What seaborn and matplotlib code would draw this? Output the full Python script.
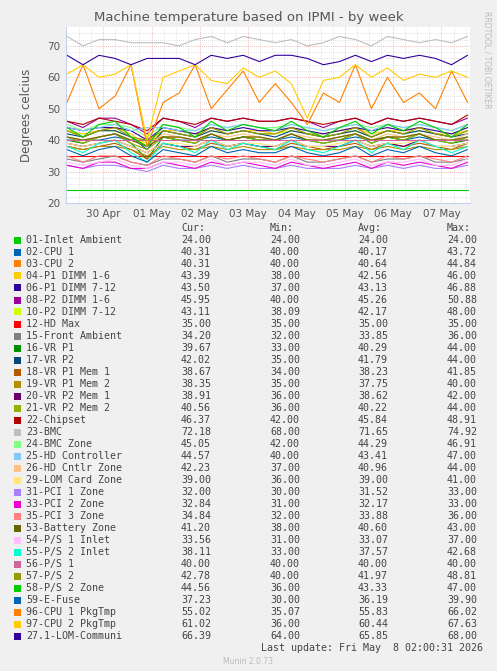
import numpy as np
import pandas as pd
import matplotlib
matplotlib.use("Agg")
import matplotlib.pyplot as plt
import seaborn as sns
from matplotlib.patches import Rectangle

sns.set_theme(style="white")
plt.rcParams['font.family'] = ['DejaVu Sans']

day_labels = ["30 Apr", "01 May", "02 May", "03 May", "04 May", "05 May", "06 May", "07 May"]
names = ["01-Inlet Ambient", "02-CPU 1", "03-CPU 2", "04-P1 DIMM 1-6", "06-P1 DIMM 7-12",
         "08-P2 DIMM 1-6", "10-P2 DIMM 7-12", "12-HD Max", "15-Front Ambient", "16-VR P1",
         "17-VR P2", "18-VR P1 Mem 1", "19-VR P1 Mem 2", "20-VR P2 Mem 1", "21-VR P2 Mem 2",
         "22-Chipset", "23-BMC", "24-BMC Zone", "25-HD Controller", "26-HD Cntlr Zone",
         "29-LOM Card Zone", "31-PCI 1 Zone", "33-PCI 2 Zone", "35-PCI 3 Zone", "53-Battery Zone",
         "54-P/S 1 Inlet", "55-P/S 2 Inlet", "56-P/S 1", "57-P/S 2", "58-P/S 2 Zone",
         "59-E-Fuse", "96-CPU 1 PkgTmp", "97-CPU 2 PkgTmp", "27.1-LOM-Communi"]
colors = ["#00CC00", "#0066B3", "#FF8000", "#FFCC00", "#330099", "#990099", "#CCFF00", "#FF0000",
          "#808080", "#008F00", "#00487D", "#B35A00", "#B38F00", "#6B006B", "#8FB300", "#B30000",
          "#BEBEBE", "#80FF80", "#80C9FF", "#FFC080", "#FFE680", "#AA80FF", "#EE00CC", "#FF8080",
          "#666600", "#FFBFFF", "#00FFCC", "#CC6699", "#999900", "#00CC00", "#0066B3", "#FF8000",
          "#FFCC00", "#330099"]
cur = ["24.00","40.31","40.31","43.39","43.50","45.95","43.11","35.00","34.20","39.67","42.02","38.67",
       "38.35","38.91","40.56","46.37","72.18","45.05","44.57","42.23","39.00","32.00","32.84","34.84",
       "41.20","33.56","38.11","40.00","42.78","44.56","37.23","55.02","61.02","66.39"]
mins = ["24.00","40.00","40.00","38.00","37.00","40.00","38.09","35.00","32.00","33.00","35.00","34.00",
        "35.00","36.00","36.00","42.00","68.00","42.00","40.00","37.00","36.00","30.00","31.00","32.00",
        "38.00","31.00","33.00","40.00","40.00","36.00","30.00","35.07","36.00","64.00"]
avgs = ["24.00","40.17","40.64","42.56","43.13","45.26","42.17","35.00","33.85","40.29","41.79","38.23",
        "37.75","38.62","40.22","45.84","71.65","44.29","43.41","40.96","39.00","31.52","32.17","33.88",
        "40.60","33.07","37.57","40.00","41.97","43.33","36.19","55.83","60.44","65.85"]
maxs = ["24.00","43.72","44.84","46.00","46.88","50.88","48.00","35.00","36.00","44.00","44.00","41.85",
        "40.00","42.00","44.00","48.91","74.92","46.91","47.00","44.00","41.00","33.00","33.00","36.00",
        "43.00","37.00","42.68","40.00","48.81","47.00","39.90","66.02","67.63","68.00"]

s01 = [24]*26
s02 = [40,40,40,41,40,40,41,40,40,41,40,41,40,40,41,40,40,40,41,40,41,40,41,40,40,40]
s03 = [41,40,41,42,40,40,41,41,40,42,40,41,41,40,42,40,40,41,42,40,41,41,42,40,40,40]
s04 = [43,42,43,44,42,38,43,43,42,44,42,43,43,42,44,42,42,43,44,42,43,43,44,42,42,43]
s06 = [44,43,44,44,43,40,44,43,42,44,43,44,43,43,44,43,42,43,44,43,44,43,44,43,42,44]
s08 = [46,44,47,47,45,42,47,46,44,47,46,47,46,46,47,46,44,46,47,45,47,46,47,46,45,47]
s10 = [43,41,43,43,41,39,43,42,41,43,42,43,42,42,43,42,41,42,43,41,43,42,43,42,41,43]
s12 = [35]*26
s15 = [34,33,34,35,33,32,34,34,33,35,33,34,34,33,35,33,33,34,35,33,34,34,35,33,33,34]
s16 = [40,39,41,42,39,34,41,40,39,42,40,41,40,40,42,40,39,40,42,39,41,40,42,40,39,40]
s17 = [42,41,43,43,41,37,43,42,41,43,42,43,42,41,43,42,41,42,43,41,43,42,43,42,41,42]
s18 = [38,37,38,39,37,34,39,38,37,39,38,39,38,37,39,38,37,38,39,37,39,38,39,38,37,39]
s19 = [38,37,38,38,37,35,38,37,37,38,37,38,37,37,38,37,37,37,38,37,38,37,38,37,37,38]
s20 = [39,38,39,40,38,36,39,38,38,40,38,39,38,38,40,38,38,38,40,38,39,38,40,38,38,39]
s21 = [41,39,41,42,39,37,41,40,39,42,40,41,40,40,42,40,39,40,42,39,41,40,42,40,39,41]
s22 = [46,45,47,46,45,43,47,46,45,47,46,47,46,46,47,46,45,46,47,45,47,46,47,46,45,48]
s23 = [73,70,72,72,71,71,71,70,72,73,71,73,72,71,72,70,71,73,72,70,73,72,71,72,71,73]
s24 = [45,43,45,45,44,41,45,44,43,45,44,45,44,44,45,44,43,44,45,44,45,44,45,44,43,45]
s25 = [44,43,44,45,43,44,44,43,43,45,44,45,44,43,45,44,43,44,45,43,45,44,45,44,43,45]
s26 = [41,40,41,42,40,38,42,41,40,42,41,42,41,40,42,41,40,41,42,40,42,41,42,41,40,42]
s29 = [39,38,39,40,38,36,39,39,38,40,38,39,39,38,40,38,38,39,40,38,39,39,40,38,38,39]
s31 = [32,31,32,32,31,30,32,31,31,32,31,32,31,31,32,31,31,31,32,31,32,31,32,31,31,32]
s33 = [32,31,33,33,31,31,33,32,31,33,32,33,32,31,33,32,31,32,33,31,33,32,33,32,31,33]
s35 = [35,33,35,35,33,32,35,34,33,35,34,35,34,33,35,34,33,34,35,33,35,34,35,34,33,35]
s53 = [41,40,41,42,40,38,41,41,40,42,40,41,41,40,42,40,40,41,42,40,41,41,42,40,40,41]
s54 = [33,32,33,34,32,31,33,33,32,34,32,33,33,32,34,32,32,33,34,32,33,33,34,32,32,34]
s55 = [38,36,39,40,36,33,39,38,36,40,37,39,38,37,40,37,36,38,40,36,39,37,40,38,36,38]
s56 = [40]*26
s57 = [43,41,43,44,41,40,43,42,41,44,42,43,42,42,44,42,41,42,44,41,43,42,44,42,41,43]
s58 = [44,41,45,46,41,38,45,44,41,46,43,45,44,43,46,43,41,44,46,42,45,43,46,44,41,45]
s59 = [37,35,37,38,35,33,37,36,35,38,36,37,36,36,38,36,35,36,38,35,37,36,38,36,35,37]
s96 = [52,64,50,54,64,38,52,55,64,50,56,62,52,58,52,45,55,52,64,50,60,52,55,50,62,52]
s97 = [61,64,60,61,64,40,60,62,64,59,58,63,60,62,58,47,59,60,64,60,63,59,61,60,62,60]
s271 = [67,64,67,66,64,66,66,66,64,67,66,67,65,67,67,66,64,65,67,65,67,66,67,66,64,67]

series = [s01,s02,s03,s04,s06,s08,s10,s12,s15,s16,s17,s18,s19,s20,s21,s22,s23,s24,s25,s26,
          s29,s31,s33,s35,s53,s54,s55,s56,s57,s58,s59,s96,s97,s271]

BG = "#F0F0F0"
fig = plt.figure(figsize=(4.97, 6.71), dpi=100, facecolor=BG)
ax = fig.add_axes([66/497, 1-203/671, 404/497, 176/671])
ax.set_facecolor("white")

xmax = 8.36
rows = []
for nm, vals in zip(names, series):
    xs = np.linspace(0.02, xmax - 0.05, len(vals))
    for x, v in zip(xs, vals):
        rows.append((nm, x, v))
df = pd.DataFrame(rows, columns=["name", "day", "temp"])
sns.lineplot(data=df, x="day", y="temp", hue="name", palette=dict(zip(names, colors)),
             hue_order=names, linewidth=0.8, legend=False, ax=ax, estimator=None)

ax.set_xlim(0, xmax)
ax.set_ylim(20, 76)
ticks = [0.77 + i for i in range(8)]
ax.set_xticks(ticks)
ax.set_xticklabels(day_labels)
ax.set_xticks([t - 0.5 + k * 0.25 for t in ticks for k in range(4)] + [7.77 + 0.5], minor=True)
ax.set_yticks([20, 30, 40, 50, 60, 70])
ax.set_yticks(np.arange(20, 76, 2), minor=True)
ax.grid(which="minor", color="#D8D8D8", linestyle=(0, (1, 1.5)), linewidth=0.6)
ax.grid(which="major", color="#F0A0A0", linestyle=(0, (1, 1.5)), linewidth=0.6)
ax.set_axisbelow(True)
for sp in ["top", "right"]:
    ax.spines[sp].set_visible(False)
for sp in ["left", "bottom"]:
    ax.spines[sp].set_color("#C8D0F0")
    ax.spines[sp].set_linewidth(0.8)
ax.tick_params(labelsize=7.5, colors="#555555", length=0, pad=4)
ax.set_xlabel("")
ax.set_ylabel("Degrees celcius", fontsize=8.5, color="#555555", labelpad=10)

fig.text(0.5, 1 - 18/671, "Machine temperature based on IPMI - by week", ha="center", va="center",
         fontsize=9.5, color="#555555")
fig.text(487/497, 1 - 60/671, "RRDTOOL / TOBI OETIKER", rotation=270, ha="center", va="center",
         fontsize=5.5, color="#BBBBBB")

mono = "DejaVu Sans Mono"
fs = 7.2
tc = "#444444"
def ty(y):
    return 1 - y / 671
fig.text(193/497, ty(228), "Cur:", ha="center", va="center", fontsize=fs, family=mono, color=tc)
fig.text(282/497, ty(228), "Min:", ha="center", va="center", fontsize=fs, family=mono, color=tc)
fig.text(370/497, ty(228), "Avg:", ha="center", va="center", fontsize=fs, family=mono, color=tc)
fig.text(459/497, ty(228), "Max:", ha="center", va="center", fontsize=fs, family=mono, color=tc)
for i, nm in enumerate(names):
    y = 240 + i * 12.0
    fig.patches.append(Rectangle((14/497, ty(y) - 3.5/671), 7/497, 7/671, transform=fig.transFigure,
                                 facecolor=colors[i], edgecolor="none"))
    fig.text(26/497, ty(y), nm, ha="left", va="center", fontsize=fs, family=mono, color=tc)
    for xr, col in [(211, cur), (300, mins), (388, avgs), (477, maxs)]:
        fig.text(xr/497, ty(y), col[i], ha="right", va="center", fontsize=fs, family=mono, color=tc)
fig.text(483/497, ty(648), "Last update: Fri May  8 02:00:31 2026", ha="right", va="center",
         fontsize=fs, family=mono, color=tc)
fig.text(248/497, ty(661), "Munin 2.0.73", ha="center", va="center", fontsize=5.5, color="#BBBBBB")
fig.savefig("out.png", dpi=100, facecolor=BG)
